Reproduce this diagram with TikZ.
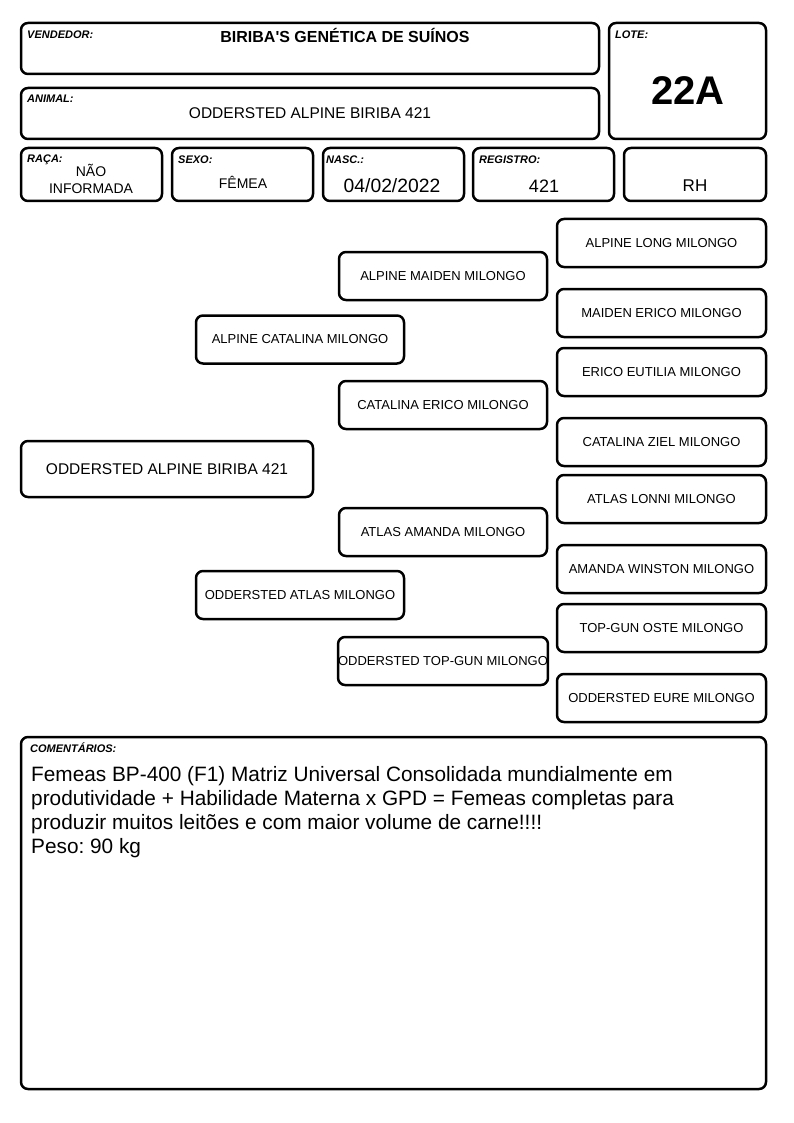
\documentclass[tikz,border=0pt]{standalone}
\usepackage{fontspec}
\setmainfont{Liberation Sans}
\newcommand\fsz[1]{\fontsize{#1}{#1}\selectfont}
\frenchspacing
\begin{document}
\begin{tikzpicture}[x=1pt,y=-1pt,
  box/.style={draw, line width=2.5pt, rounded corners=7pt, inner sep=0pt},
  lab/.style={anchor=base west, font=\fsz{11}\bfseries\itshape, inner sep=0pt},
  val/.style={anchor=base, inner sep=0pt},
  tree/.style={box, font=\fsz{13}},
  treeA/.style={tree, minimum width=208pt, minimum height=48pt},
  treeB/.style={tree, minimum width=209pt, minimum height=48pt},
  cline/.style={anchor=base west, inner sep=0pt, font=\fsz{20.8}},
]
\useasboundingbox[fill=white] (0,0) rectangle (794,1123);

% header boxes
\node[box, minimum width=578pt, minimum height=51pt] (vend) at (310,48.5) {};
\node[box, minimum width=157pt, minimum height=116pt] (lote) at (687.5,81) {};
\node[box, minimum width=578pt, minimum height=51pt] (animal) at (310,113.5) {};
\node[box, minimum width=141pt, minimum height=53pt] (raca) at (91.5,174.5) {};
\node[box, minimum width=141pt, minimum height=53pt] (sexo) at (242.5,174.5) {};
\node[box, minimum width=141pt, minimum height=53pt] (nasc) at (393.5,174.5) {};
\node[box, minimum width=141pt, minimum height=53pt] (reg) at (543.5,174.5) {};
\node[box, minimum width=142pt, minimum height=53pt] (rh) at (695,174.5) {};

% labels
\node[lab] (lvend) at (27,38.8) {VENDEDOR:};
\node[lab] (llote) at (615,38.8) {LOTE:};
\node[lab] (lanimal) at (27,102.8) {ANIMAL:};
\node[lab] (lraca) at (27,162.8) {RAÇA:};
\node[lab] (lsexo) at (178,163.8) {SEXO:};
\node[lab] (lnasc) at (326,163.8) {NASC.:};
\node[lab] (lreg) at (479,163.8) {REGISTRO:};

% values
\node[val, font=\fsz{16}\bfseries] (tvend) at (345,43) {BIRIBA\textquotesingle S GENÉTICA DE SUÍNOS};
\node[val, font=\fsz{40}\bfseries] (tlote) at (688,105) {22A};
\node[val, font=\fsz{15.5}] (tanimal) at (310,118.5) {ODDERSTED ALPINE BIRIBA 421};
\node[val, font=\fsz{14}] (traca1) at (91,177) {NÃO};
\node[val, font=\fsz{14}] (traca2) at (91,194) {INFORMADA};
\node[val, font=\fsz{14}] (tsexo) at (243,189) {FÊMEA};
\node[val, font=\fsz{19.3}] (tnasc) at (392,193) {04/02/2022};
\node[val, font=\fsz{18}] (treg) at (544,192.5) {421};
\node[val, font=\fsz{17}] (trh) at (695,192) {RH};

% pedigree
\node[box, font=\fsz{15.5}, minimum width=292pt, minimum height=56pt] (a0) at (167,469) {ODDERSTED ALPINE BIRIBA 421};

\node[treeA] (b1) at (300,339.5) {ALPINE CATALINA MILONGO};
\node[treeA] (b2) at (300,595) {ODDERSTED ATLAS MILONGO};

\node[treeA] (c1) at (443,276) {ALPINE MAIDEN MILONGO};
\node[treeA] (c2) at (443,405) {CATALINA ERICO MILONGO};
\node[treeA] (c3) at (443,532) {ATLAS AMANDA MILONGO};
\node[treeA] (c4) at (443,661) {ODDERSTED TOP-GUN MILONGO};

\node[treeB] (d1) at (661.5,243) {ALPINE LONG MILONGO};
\node[treeB] (d2) at (661.5,313) {MAIDEN ERICO MILONGO};
\node[treeB] (d3) at (661.5,372) {ERICO EUTILIA MILONGO};
\node[treeB] (d4) at (661.5,442) {CATALINA ZIEL MILONGO};
\node[treeB] (d5) at (661.5,499) {ATLAS LONNI MILONGO};
\node[treeB] (d6) at (661.5,569) {AMANDA WINSTON MILONGO};
\node[treeB] (d7) at (661.5,628) {TOP-GUN OSTE MILONGO};
\node[treeB] (d8) at (661.5,698) {ODDERSTED EURE MILONGO};

% comments
\node[box, minimum width=745pt, minimum height=352pt] (com) at (393.5,913) {};
\node[lab] (lcom) at (30,752) {COMENTÁRIOS:};
\node[cline] (cl1) at (31,781) {Femeas BP-400 (F1) Matriz Universal Consolidada mundialmente em};
\node[cline] (cl2) at (31,805) {produtividade + Habilidade Materna x GPD = Femeas completas para};
\node[cline] (cl3) at (31,829) {produzir muitos leitões e com maior volume de carne!!!!};
\node[cline] (cl4) at (31,853) {Peso: 90 kg};
\end{tikzpicture}
\end{document}
